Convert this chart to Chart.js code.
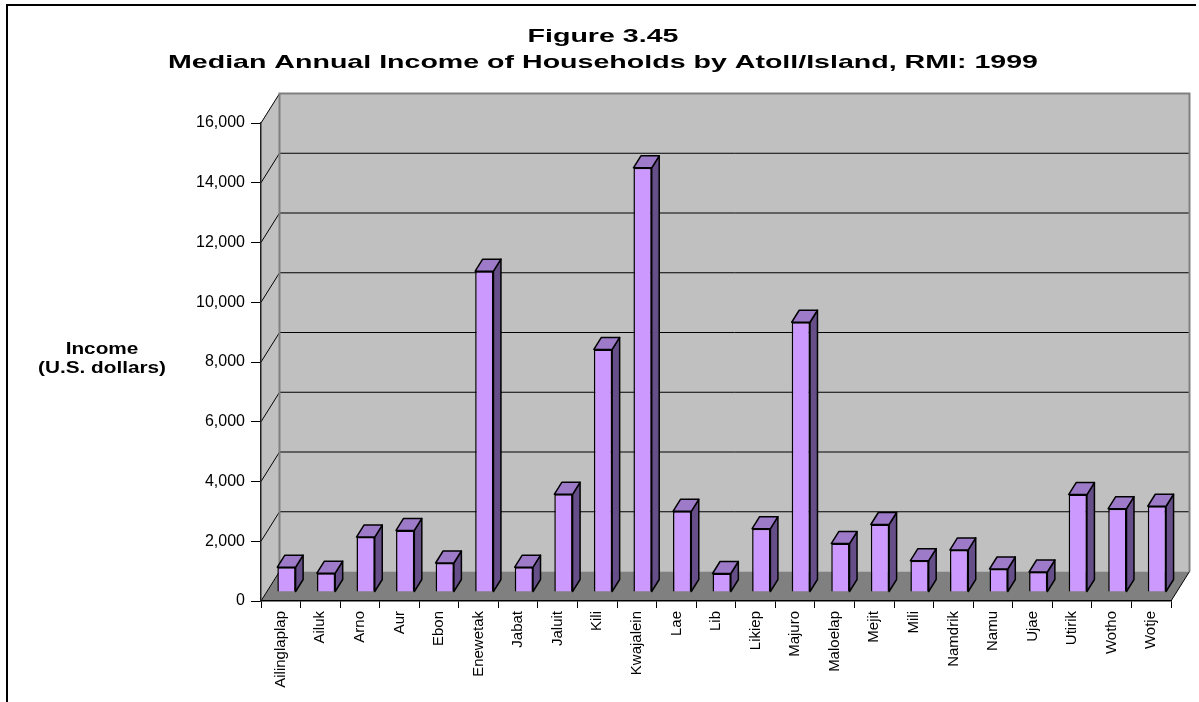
<!DOCTYPE html>
<html>
<head>
<meta charset="utf-8">
<script src="https://cdn.jsdelivr.net/npm/chart.js@4.4.1/dist/chart.umd.min.js"></script>
<style>
  html, body { margin: 0; padding: 0; background: #ffffff; }
  #wrap { width: 1199px; height: 702px; position: relative; }
</style>
</head>
<body>
<div id="wrap"><canvas id="c"></canvas></div>
<script>
// ---- data ----
const categories = ['Ailinglaplap','Ailuk','Arno','Aur','Ebon','Enewetak','Jabat','Jaluit','Kili','Kwajalein','Lae','Lib','Likiep','Majuro','Maloelap','Mejit','Mili','Namdrik','Namu','Ujae','Utirik','Wotho','Wotje'];
const incomeValues = [830, 630, 1840, 2060, 970, 10740, 830, 3270, 8120, 14200, 2700, 620, 2120, 9030, 1620, 2260, 1050, 1410, 770, 670, 3260, 2790, 2870];
const titleLines = ['Figure 3.45', 'Median Annual Income of Households by Atoll/Island, RMI: 1999'];
const yAxisTitleLines = ['Income', '(U.S. dollars)'];
const yMin = 0, yMax = 16000, yStep = 2000;

// ---- 3D look settings ----
const WALL_DX = 18.5, WALL_DY = -29.5;   // depth of the floor / walls
const BAR_SHIFT_X = 5.7, BAR_SHIFT_Y = -9; // bars sit inside the depth
const BAR_DX = 7.5, BAR_DY = -12;        // bar depth
const FONT = "'Liberation Sans', Arial, sans-serif";

function stretchedText(ctx, text, cx, cy, font, sx) {
  ctx.save();
  ctx.font = font;
  ctx.fillStyle = '#000';
  ctx.textAlign = 'center';
  ctx.textBaseline = 'middle';
  ctx.translate(cx, cy);
  ctx.scale(sx, 1);
  ctx.fillText(text, 0, 0);
  ctx.restore();
}

const threeD = {
  id: 'threeD',
  beforeDraw(chart) {
    const ctx = chart.ctx, ca = chart.chartArea, ys = chart.scales.y;
    const L = ca.left, R = ca.right;
    const T = ys.getPixelForValue(yMax), B = ys.getPixelForValue(yMin);
    ctx.save();
    ctx.fillStyle = '#fff';
    ctx.fillRect(0, 0, chart.width, chart.height);
    // outer frame (top + left)
    ctx.strokeStyle = '#000'; ctx.lineWidth = 2;
    ctx.beginPath(); ctx.moveTo(7, 702); ctx.lineTo(7, 5); ctx.lineTo(1196, 5); ctx.stroke();
    // back wall
    ctx.fillStyle = '#c0c0c0';
    ctx.fillRect(L + WALL_DX, T + WALL_DY, R - L, B - T);
    // left wall
    ctx.beginPath();
    ctx.moveTo(L, T); ctx.lineTo(L + WALL_DX, T + WALL_DY);
    ctx.lineTo(L + WALL_DX, B + WALL_DY); ctx.lineTo(L, B); ctx.closePath();
    ctx.fill();
    // floor
    ctx.fillStyle = '#808080';
    ctx.beginPath();
    ctx.moveTo(L, B); ctx.lineTo(R, B); ctx.lineTo(R + WALL_DX, B + WALL_DY);
    ctx.lineTo(L + WALL_DX, B + WALL_DY); ctx.closePath();
    ctx.fill();
    // gridlines
    ctx.strokeStyle = '#000'; ctx.lineWidth = 1;
    ys.ticks.forEach(t => {
      if (t.value === yMin) return;
      const y = ys.getPixelForValue(t.value);
      ctx.beginPath();
      ctx.moveTo(L, y); ctx.lineTo(L + WALL_DX, y + WALL_DY);
      if (t.value !== yMax) ctx.lineTo(R + WALL_DX, y + WALL_DY);
      ctx.stroke();
    });
    // back wall border
    ctx.strokeStyle = '#808080'; ctx.lineWidth = 2;
    ctx.beginPath();
    ctx.moveTo(L + WALL_DX, B + WALL_DY); ctx.lineTo(L + WALL_DX, T + WALL_DY);
    ctx.lineTo(R + WALL_DX, T + WALL_DY); ctx.lineTo(R + WALL_DX, B + WALL_DY);
    ctx.stroke();
    // floor edges
    ctx.strokeStyle = '#000'; ctx.lineWidth = 1;
    ctx.beginPath();
    ctx.moveTo(L, B); ctx.lineTo(L + WALL_DX, B + WALL_DY);
    ctx.moveTo(R, B); ctx.lineTo(R + WALL_DX, B + WALL_DY);
    ctx.stroke();
    // titles
    ctx.font = 'bold 19px ' + FONT;
    const sxT = 870 / ctx.measureText(titleLines[1]).width;
    const cx = 603;
    stretchedText(ctx, titleLines[0], cx, 37, 'bold 19px ' + FONT, sxT);
    stretchedText(ctx, titleLines[1], cx, 63, 'bold 19px ' + FONT, sxT);
    ctx.font = 'bold 16px ' + FONT;
    const sxY = 128 / ctx.measureText(yAxisTitleLines[1]).width;
    stretchedText(ctx, yAxisTitleLines[0], 102, 350, 'bold 16px ' + FONT, sxY);
    stretchedText(ctx, yAxisTitleLines[1], 102, 369, 'bold 16px ' + FONT, sxY);
    ctx.restore();
  },
  beforeDatasetsDraw(chart) {
    const ctx = chart.ctx;
    ctx.save();
    ctx.translate(BAR_SHIFT_X, BAR_SHIFT_Y);
    const meta = chart.getDatasetMeta(0);
    ctx.lineWidth = 1.5;
    ctx.strokeStyle = '#000';
    ctx.lineJoin = 'round';
    meta.data.forEach(bar => {
      const p = bar.getProps(['x', 'y', 'base', 'width'], true);
      const l = p.x - p.width / 2, r = p.x + p.width / 2;
      // side face
      ctx.fillStyle = '#664f88';
      ctx.beginPath();
      ctx.moveTo(r, p.y); ctx.lineTo(r + BAR_DX, p.y + BAR_DY);
      ctx.lineTo(r + BAR_DX, p.base + BAR_DY); ctx.lineTo(r, p.base); ctx.closePath();
      ctx.fill(); ctx.stroke();
      // top face
      ctx.fillStyle = '#9d7bc8';
      ctx.beginPath();
      ctx.moveTo(l, p.y); ctx.lineTo(l + BAR_DX, p.y + BAR_DY);
      ctx.lineTo(r + BAR_DX, p.y + BAR_DY); ctx.lineTo(r, p.y); ctx.closePath();
      ctx.fill(); ctx.stroke();
    });
  },
  afterDatasetsDraw(chart) {
    chart.ctx.restore();
  }
};

new Chart(document.getElementById('c'), {
  type: 'bar',
  plugins: [threeD],
  data: {
    labels: categories,
    datasets: [{
      label: 'Median annual household income',
      data: incomeValues,
      backgroundColor: '#cc99ff',
      borderColor: '#000000',
      borderWidth: 1.5,
      barPercentage: 0.462,
      categoryPercentage: 1.0,
      clip: false
    }]
  },
  options: {
    responsive: true,
    maintainAspectRatio: false,
    animation: false,
    layout: { padding: { top: 123, right: 28, left: 0, bottom: 0 } },
    plugins: { legend: { display: false }, title: { display: false }, tooltip: { enabled: false } },
    scales: {
      x: {
        offset: true,
        afterFit(scale) { scale.height = 101; },
        grid: { offset: true, drawOnChartArea: false, drawTicks: true, tickLength: 7, color: '#000', lineWidth: 1 },
        border: { display: true, color: '#000', width: 1.5 },
        ticks: { autoSkip: false, minRotation: 90, maxRotation: 90, padding: 3, color: '#000', font: { family: FONT, size: 15 } }
      },
      y: {
        min: yMin, max: yMax,
        afterFit(scale) { scale.width = 261; },
        grid: { drawOnChartArea: false, drawTicks: true, tickLength: 10, color: '#000', lineWidth: 1 },
        border: { display: true, color: '#222', width: 1.5 },
        ticks: { stepSize: yStep, padding: 6, color: '#000', font: { family: FONT, size: 16 } }
      }
    }
  }
});
</script>
</body>
</html>
